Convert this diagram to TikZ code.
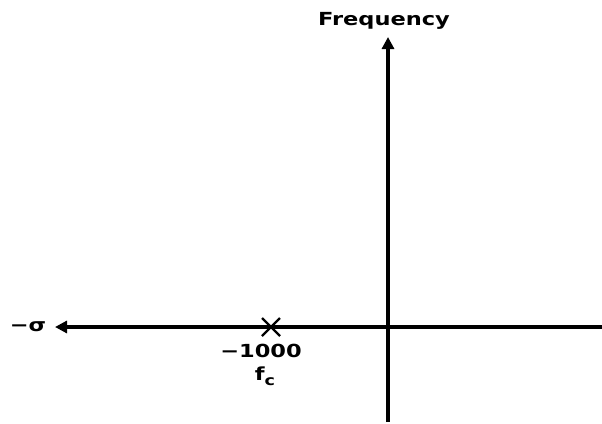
\documentclass[tikz,border=0pt]{standalone}
\usepackage{fontspec}
\setmainfont{DejaVu Sans}
\usetikzlibrary{arrows.meta,calc}
\tikzset{
  axis/.style={line width=3.6pt, -{Triangle[length=12pt,width=12pt]}},
  axisplain/.style={line width=3.6pt},
  lbl/.style={font=\fontsize{18}{18}\selectfont\bfseries, inner sep=0pt},
  crossmark/.style={line width=2.2pt}
}
\newcommand{\wide}[1]{\scalebox{1.25}[1]{#1}}
\begin{document}
\begin{tikzpicture}[x=1pt,y=-1pt]
\useasboundingbox (0,0) rectangle (602,423);
\coordinate (O) at (388,327);
\coordinate (L) at (55,327);
\coordinate (R) at (602,327);
\coordinate (T) at (388,37);
\coordinate (B) at (388,422);
\coordinate (P) at (271,327);
\draw[axisplain] (O) -- (R);
\draw[axis] (R) -- (L);
\draw[axis] (B) -- (T);
\draw[crossmark] ($(P)+(-9,-9)$) -- ($(P)+(9,9)$);
\draw[crossmark] ($(P)+(-9,9)$) -- ($(P)+(9,-9)$);
\node[lbl] (freq) at (384,21) {\wide{Frequency}};
\node[lbl] (sigma) at (28,327) {\wide{−σ}};
\node[lbl] (val) at (261,351) {\wide{−1000}};
\node[lbl] (fc) at (265,376) {\wide{f\raisebox{-5pt}{\fontsize{14}{14}\selectfont c}}};
\end{tikzpicture}
\end{document}
